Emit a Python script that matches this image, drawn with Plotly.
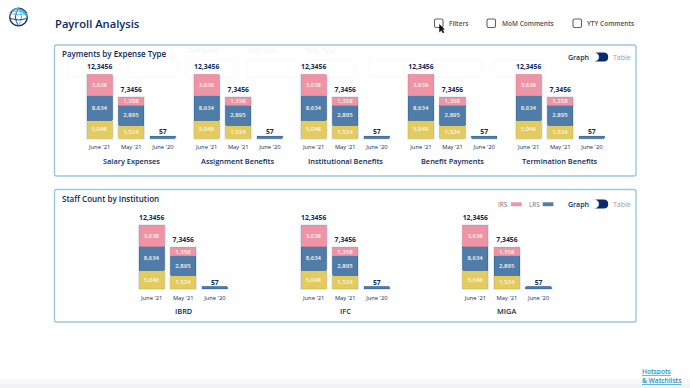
import plotly.graph_objects as go

# ---- data ----
periods = ["June '21", "May '21", "June '20"]
expense_groups = ["Salary Expenses", "Assignment Benefits", "Institutional Benefits", "Benefit Payments", "Termination Benefits"]
institution_groups = ["IBRD", "IFC", "MIGA"]
totals = ["12,3456", "7,3456", "57"]
yellow_labels = ["5,048", "1,524", ""]
blue_labels = ["8,634", "2,895", ""]
pink_labels = ["3,638", "1,358", ""]
# drawn segment heights (the bars are not to the scale of their labels)
yellow_heights = [18.3, 13.3, 0]
blue_heights = [24.3, 19.7, 2]
pink_heights = [21, 8.3, 0]

W, H = 690, 388
NAVY = "#0b2a5e"; PINK = "#ee94a6"; BLUE = "#4f7ca9"; YEL = "#e3cb5f"
FONT = "Open Sans"
fx = lambda p: p / W
fy = lambda p: 1 - p / H

fig = go.Figure()
shapes, ann = [], []

def text(x, y, s, size=8, color=NAVY, anchor="center", weight=400):
    ann.append(dict(x=fx(x), y=fy(y), xref="paper", yref="paper", text=s, showarrow=False, xanchor=anchor,
                    yanchor="middle", align="left" if anchor == "left" else "center", borderpad=0, borderwidth=0,
                    font=dict(family=FONT, size=size, color=color, weight=weight)))

def rrect(x0, y0, x1, y1, r, line=None, fill=None, lw=1.0, layer="below"):
    p = (f"M {fx(x0+r)} {fy(y0)} L {fx(x1-r)} {fy(y0)} Q {fx(x1)} {fy(y0)} {fx(x1)} {fy(y0+r)} "
         f"L {fx(x1)} {fy(y1-r)} Q {fx(x1)} {fy(y1)} {fx(x1-r)} {fy(y1)} L {fx(x0+r)} {fy(y1)} "
         f"Q {fx(x0)} {fy(y1)} {fx(x0)} {fy(y1-r)} L {fx(x0)} {fy(y0+r)} Q {fx(x0)} {fy(y0)} {fx(x0+r)} {fy(y0)} Z")
    shapes.append(dict(type="path", path=p, xref="paper", yref="paper", layer=layer,
                       line=dict(color=line or "rgba(0,0,0,0)", width=lw), fillcolor=fill or "rgba(0,0,0,0)"))

def rect(x0, y0, x1, y1, fill):
    shapes.append(dict(type="rect", x0=fx(x0), x1=fx(x1), y0=fy(y0), y1=fy(y1), xref="paper", yref="paper",
                       layer="below", line=dict(width=0), fillcolor=fill))

def ellipse(cx, cy, rx, ry, line, lw=1.0, fill=None):
    shapes.append(dict(type="circle", x0=fx(cx-rx), x1=fx(cx+rx), y0=fy(cy-ry), y1=fy(cy+ry), xref="paper", yref="paper",
                       layer="above", line=dict(color=line, width=lw), fillcolor=fill or "rgba(0,0,0,0)"))

def curve(x0, y0, cx, cy, x1, y1, color, lw):
    shapes.append(dict(type="path", xref="paper", yref="paper", layer="above", line=dict(color=color, width=lw),
                       fillcolor="rgba(0,0,0,0)", path=f"M {fx(x0)} {fy(y0)} Q {fx(cx)} {fy(cy)} {fx(x1)} {fy(y1)}"))

# panels first so that they sit under the chart shadows
rrect(54.5, 45, 636, 176, 2, line="#9cc8e0", lw=1.4, fill="#ffffff")
rrect(54.5, 189.5, 636, 322, 2, line="#9cc8e0", lw=1.4, fill="#ffffff")
rect(0, 379, 690, 388, "#f8f8fa")
rect(0, 384, 690, 388, "#f2f2f5")
# faint filter row showing through the first panel
for x0, x1 in ((68, 120), (128, 178), (187, 238), (247, 297), (306, 355), (369, 418), (432, 482), (494, 544)):
    rrect(x0, 60, x1, 77, 1, line="#f7f4f9", lw=0.8)
text(188, 51, "Company", size=7, color="#f3f2f6", anchor="left", weight=500)
text(247, 51, "PSG Type", size=7, color="#f3f2f6", anchor="left", weight=500)
text(306, 51, "Rev. Type", size=7, color="#f3f2f6", anchor="left", weight=500)

# ---- small charts ----
idx = [0]
BAR_PITCH = 31.6
UNIT_TOP = max(a + b + c for a, b, c in zip(yellow_heights, blue_heights, pink_heights)) * 1.25
LABEL_GAPS = (3.5, 3.5, 0.2)

def group(left, base_y, name, title_y):
    idx[0] += 1
    n = idx[0]
    sx = "" if n == 1 else str(n)
    xa, ya = "x" + sx, "y" + sx
    pad = (BAR_PITCH - 25.3) / 2
    d0 = left - pad
    xs = [0, 1, 2]
    stack_tot = [a + b + c for a, b, c in zip(yellow_heights, blue_heights, pink_heights)]
    label_y = [t + g for t, g in zip(stack_tot, LABEL_GAPS)]
    for vals, labels, col, edge, nm in ((yellow_heights, yellow_labels, YEL, "#d8c05a", ""),
                                        (blue_heights, blue_labels, BLUE, "#3e6b99", "LRS"),
                                        (pink_heights, pink_labels, PINK, "#e58a9e", "IRS")):
        fig.add_trace(go.Bar(x=xs, y=vals, text=labels, width=0.8, xaxis=xa, yaxis=ya, name=nm, showlegend=False,
                             marker=dict(color=col, line=dict(color=edge, width=[0.8 if v else 0 for v in vals])),
                             textposition="inside", insidetextanchor="middle", constraintext="none",
                             textangle=0, cliponaxis=False,
                             insidetextfont=dict(family=FONT, size=6, color="#fbf7ee", weight=600)))
    fig.add_trace(go.Scatter(x=xs, y=label_y, text=totals, mode="text", textposition="top center", xaxis=xa, yaxis=ya,
                             showlegend=False, cliponaxis=False,
                             textfont=dict(family=FONT, size=6.8, color=NAVY, weight=700)))
    for i, t in enumerate(stack_tot):
        shapes.append(dict(type="rect", xref=xa, yref=ya, x0=i - 0.44, x1=i + 0.44, y0=-1.4, y1=t + 0.8, layer="below",
                           line=dict(width=0), fillcolor="#dfe9f3"))
    top_px = base_y - UNIT_TOP
    fig.update_layout({
        ("xaxis" + sx): dict(domain=[fx(d0), fx(d0 + 3 * BAR_PITCH)], range=[-0.5, 2.5], anchor=ya, tickvals=xs, ticktext=periods,
                             showgrid=False, zeroline=False, showline=False, ticks="", ticklabelstandoff=2,
                             tickfont=dict(family=FONT, size=5.8, color=NAVY, weight=500)),
        ("yaxis" + sx): dict(domain=[fy(base_y + 2), fy(top_px)], range=[-2, UNIT_TOP], anchor=xa, visible=False),
    })
    text(left + 44, title_y, name, size=7.4, color=NAVY, weight=600)

for left, nm in zip([87, 194, 301, 408.3, 516], expense_groups):
    group(left, 138.3, nm, 160.7)
for left, nm in zip([139, 301, 462.7], institution_groups):
    group(left, 288.7, nm, 311)

# ---- page furniture ----
text(55, 23.5, "Payroll Analysis", size=11.2, anchor="left", weight=600)
text(61.5, 54, "Payments by Expense Type", size=8, anchor="left", weight=600)
text(61.5, 199, "Staff Count by Institution", size=8, anchor="left", weight=600)

# checkboxes
for x, lbl, tx in ((434.5, "Filters", 448.5), (487, "MoM Comments", 501.7), (573, "YTY Comments", 587)):
    rrect(x, 19, x + 8.5, 27.5, 1.5, line="#5f6368", lw=1.1, layer="above")
    text(tx, 23, lbl, size=6.5, color="#4a4f57", anchor="left", weight=600)
# cursor
shapes.append(dict(type="path", xref="paper", yref="paper", layer="above", line=dict(color="#111", width=0.5), fillcolor="#111111",
                   path=f"M {fx(439.5)} {fy(24.5)} L {fx(439.5)} {fy(32)} L {fx(441.3)} {fy(30.3)} L {fx(443)} {fy(33)} L {fx(444)} {fy(32.3)} L {fx(442.5)} {fy(29.6)} L {fx(444.4)} {fy(29.3)} Z"))

# toggles
def toggle(y):
    text(568, y, "Graph", size=7, weight=600, anchor="left")
    rrect(592, y - 4.5, 608.2, y + 4.5, 4.5, fill="#0b2a6e", layer="above")
    ellipse(594.3, y, 4.4, 4.4, "#e3e6ea", 0.7, "#ffffff")
    text(612.7, y, "Table", size=7, color="#9a9da3", anchor="left", weight=500)
toggle(57)
toggle(204)

# legend in lower panel
text(498, 204, "IRS", size=6.4, color="#6a6e75", anchor="left", weight=500)
rect(511, 202.3, 521.7, 206.2, PINK)
text(529, 204, "LRS", size=6.4, color="#6a6e75", anchor="left", weight=500)
rect(542.7, 202.3, 553.4, 206.2, BLUE)

# link
text(641.7, 371.7, "<u>Hotspots</u>", size=6.6, color="#1c8fc9", anchor="left", weight=600)
text(641.7, 380, "<u>&amp; Watchlists</u>", size=6.6, color="#1c8fc9", anchor="left", weight=600)

# globe logo
GN, GB = "#0d2f63", "#45b4ea"
ellipse(18.5, 17, 8.8, 8.8, GN, 1.3)
curve(18.5, 8.2, 12.5, 17, 18.5, 25.8, GN, 0.9)
curve(18.5, 8.2, 24.5, 17, 18.5, 25.8, GB, 0.9)
curve(10.3, 13.5, 18.5, 16, 26.7, 13.5, GB, 0.9)
curve(9.8, 18.5, 18.5, 21.5, 27.3, 18.5, GN, 0.9)
curve(12, 11, 18.5, 13, 25, 11, GB, 0.8)
curve(13.5, 9.8, 20, 6.4, 27.3, 16.5, GB, 2.0)

fig.update_layout(width=W, height=H, margin=dict(l=0, r=0, t=0, b=0), paper_bgcolor="#ffffff", plot_bgcolor="rgba(0,0,0,0)",
                  barmode="stack", showlegend=False, shapes=shapes, annotations=ann, font=dict(family=FONT))
fig.write_html("out.html", config=dict(displayModeBar=False),
               post_script="document.body.style.margin='0';document.body.style.overflow='hidden';")
